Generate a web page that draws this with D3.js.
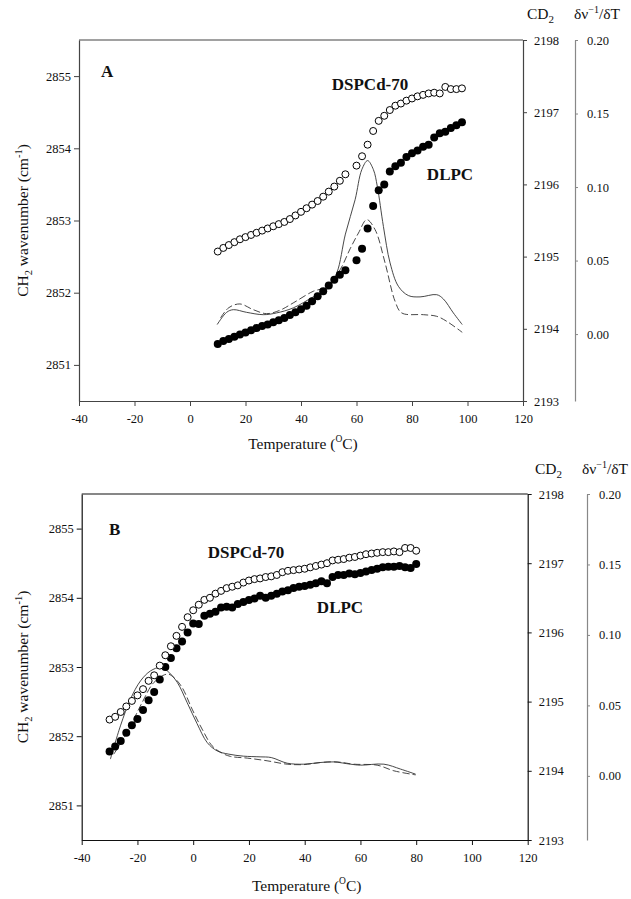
<!DOCTYPE html>
<html><head><meta charset="utf-8">
<script src="https://cdn.jsdelivr.net/npm/d3@7"></script>
<style>
body{margin:0;background:#fff}
svg{display:block}
text{font-family:"Liberation Serif","Times New Roman",serif;fill:#111}
</style>
</head><body><svg id="c" width="631" height="899"></svg>
<script>
// ---------- shared axes ----------
const xTicks = [-40,-20,0,20,40,60,80,100,120];
const ch2Ticks = [2851,2852,2853,2854,2855];
const cd2Ticks = [2193,2194,2195,2196,2197,2198];
const derivTicks = [0.00,0.05,0.10,0.15,0.20];
const xDomain = [-40,120];
const ch2Domain = [2850.5,2855.5];
const cd2Domain = [2193,2198];
const derivDomain = [-0.0455,0.20];

// ---------- panel A data ----------
const tempA = [10,12,14,16,18,20,22,24,26,28,30,32,34,36,38,40,42,44,46,48,50,52,54,56,
               60,62,64,66,68,70,72,74,76,78,80,82,84,86,88,90,92,94,96,98];
const dspcA = [2852.57,2852.62,2852.66,2852.70,2852.74,2852.77,2852.80,2852.83,2852.86,2852.89,2852.92,2852.95,2852.98,2853.02,2853.07,2853.12,2853.17,2853.22,2853.27,2853.33,2853.40,2853.47,2853.55,2853.64,
               2853.76,2853.89,2854.05,2854.24,2854.38,2854.45,2854.53,2854.59,2854.62,2854.66,2854.69,2854.72,2854.74,2854.76,2854.77,2854.76,2854.85,2854.82,2854.82,2854.83];
const dlpcA = [2851.29,2851.33,2851.36,2851.39,2851.42,2851.45,2851.48,2851.51,2851.54,2851.56,2851.59,2851.62,2851.65,2851.69,2851.73,2851.77,2851.82,2851.88,2851.95,2852.02,2852.10,2852.18,2852.25,2852.31,
               2852.45,2852.61,2852.89,2853.20,2853.42,2853.50,2853.68,2853.75,2853.80,2853.88,2853.93,2853.97,2854.02,2854.05,2854.15,2854.21,2854.23,2854.28,2854.32,2854.36];
const solidTempA = [9.8,13.2,15.6,20.4,26.4,31.2,37.2,44.4,49.3,52.9,56,59.5,61.9,64,66.1,67.5,69.7,72.1,75.1,78.7,82.9,88.9,91.3,94.9,98.1];
const solidDerivA = [0.0065,0.0148,0.0166,0.0148,0.0132,0.0144,0.0178,0.0253,0.0302,0.0416,0.068,0.0914,0.1118,0.118,0.1118,0.1004,0.0732,0.0484,0.0325,0.0262,0.0253,0.0268,0.0239,0.0144,0.0065];
const dashTempA = [11,14,18,22.8,27.6,32.4,37.2,44.4,49.3,54.1,57.7,60.7,63.7,66.7,70.3,73.9,76.3,84.1,88.9,92.5,98.1];
const dashDerivA = [0.011,0.018,0.0205,0.0166,0.0139,0.0162,0.0212,0.0291,0.0321,0.0438,0.058,0.0687,0.0778,0.071,0.0484,0.0223,0.0144,0.0132,0.0121,0.0087,0.0012];

// ---------- panel B data ----------
const tempB = [-30,-28,-26,-24,-22,-20,-18,-16,-14,-12,-10,-8,-6,-4,-2,0,2,4,6,8,10,12,14,16,18,20,22,24,26,28,
               30,32,34,36,38,40,42,44,46,48,50,52,54,56,58,60,62,64,66,68,70,72,74,76,78,80];
const dspcB = [2852.24,2852.28,2852.35,2852.43,2852.51,2852.59,2852.68,2852.80,2852.88,2853.02,2853.17,2853.30,2853.45,2853.58,2853.72,2853.82,2853.90,2853.97,2854.00,2854.06,2854.10,2854.14,2854.16,2854.18,2854.22,2854.25,2854.27,2854.28,2854.30,2854.31,
               2854.33,2854.37,2854.39,2854.40,2854.41,2854.42,2854.44,2854.46,2854.48,2854.50,2854.54,2854.55,2854.56,2854.58,2854.59,2854.61,2854.63,2854.64,2854.65,2854.66,2854.66,2854.67,2854.66,2854.72,2854.72,2854.68];
const dlpcB = [2851.78,2851.85,2851.93,2852.05,2852.16,2852.25,2852.38,2852.52,2852.64,2852.82,2853.00,2853.13,2853.27,2853.37,2853.50,2853.63,2853.62,2853.74,2853.77,2853.80,2853.86,2853.87,2853.86,2853.91,2853.94,2853.97,2853.99,2854.03,2854.00,2854.03,
               2854.06,2854.09,2854.11,2854.14,2854.16,2854.17,2854.19,2854.21,2854.24,2854.21,2854.30,2854.33,2854.33,2854.35,2854.34,2854.36,2854.38,2854.40,2854.42,2854.44,2854.45,2854.45,2854.46,2854.44,2854.43,2854.49];
const solidTempB = [-29.7,-26.1,-22.5,-18.9,-15.3,-11.7,-9.3,-5.7,-2.2,1.4,5,8.6,12.8,18,24,28,33.7,39.7,45.7,50.4,56.4,60,68.4,74.4,79.8];
const solidDerivB = [0.0119,0.0355,0.0545,0.0674,0.0745,0.077,0.0745,0.0663,0.0521,0.0370,0.0237,0.0177,0.0154,0.014,0.0135,0.013,0.009,0.0083,0.0095,0.0099,0.0083,0.0076,0.0083,0.0048,0.0012];
const dashTempB = [-28.5,-23.7,-18.3,-14.1,-9.3,-7,-4,-0.4,3.2,6.8,10.4,13.4,19.4,26.5,33.7,39.7,45.7,51.6,57.6,66,72,79.8];
const dashDerivB = [0.0154,0.0308,0.0521,0.0663,0.0722,0.0699,0.0628,0.0474,0.0332,0.0213,0.0161,0.0138,0.0126,0.0107,0.0083,0.008,0.0095,0.0099,0.0083,0.0076,0.0036,0.0007];

const svg = d3.select("#c");
const plain = d => String(d);

function panel(p) {
  const g = svg.append("g");
  const x = d3.scaleLinear().domain(xDomain).range([p.left, p.right]);
  const y = d3.scaleLinear().domain(ch2Domain).range([p.bottom, p.top]);
  const yCD = d3.scaleLinear().domain(cd2Domain).range([p.bottom, p.top]);
  const yD = d3.scaleLinear().domain(derivDomain).range([p.bottom, p.top]);

  // top frame line
  g.append("line").attr("x1", p.left).attr("x2", p.right).attr("y1", p.top).attr("y2", p.top)
    .attr("stroke", p.axisColor).attr("stroke-width", 1.2);

  const styleAxis = (sel, col) => {
    sel.selectAll("path").attr("stroke", col).attr("stroke-width", 1.2);
    sel.selectAll("line").attr("stroke", col).attr("stroke-width", 1);
    sel.selectAll("text").attr("font-family", '"Liberation Serif","Times New Roman",serif')
       .attr("font-size", 12.5).attr("fill", "#111");
  };

  const gx = g.append("g").attr("transform", `translate(0,${p.bottom})`)
    .call(d3.axisBottom(x).tickValues(xTicks).tickSize(5).tickSizeOuter(0).tickPadding(8).tickFormat(plain));
  styleAxis(gx, p.axisColor);

  const gy = g.append("g").attr("transform", `translate(${p.left},0)`)
    .call(d3.axisLeft(y).tickValues(ch2Ticks).tickSize(5).tickSizeOuter(0).tickPadding(3).tickFormat(plain));
  styleAxis(gy, p.axisColor);

  const gr = g.append("g").attr("transform", `translate(${p.right},0)`)
    .call(d3.axisRight(yCD).tickValues(cd2Ticks).tickSize(4).tickSizeOuter(0).tickPadding(7).tickFormat(plain));
  styleAxis(gr, p.axisColor);

  const gd = g.append("g").attr("transform", `translate(${p.axis3},0)`)
    .call(d3.axisRight(yD).tickValues(derivTicks).tickSize(3).tickSizeOuter(0).tickPadding(9).tickFormat(d3.format(".2f")));
  styleAxis(gd, "#888");

  // derivative curves
  const line = d3.line().x(d => x(d[0])).y(d => yD(d[1])).curve(d3.curveCatmullRom.alpha(0.5));
  g.append("path").datum(d3.zip(p.solidT, p.solidV)).attr("d", line)
    .attr("fill", "none").attr("stroke", "#333").attr("stroke-width", 0.9);
  g.append("path").datum(d3.zip(p.dashT, p.dashV)).attr("d", line)
    .attr("fill", "none").attr("stroke", "#333").attr("stroke-width", 0.9).attr("stroke-dasharray", "7,3");

  // filled circles (DLPC)
  g.append("g").selectAll("circle").data(d3.zip(p.temps, p.filled)).join("circle")
    .attr("cx", d => x(d[0])).attr("cy", d => y(d[1])).attr("r", 4).attr("fill", "#000");
  // open circles (DSPCd-70)
  g.append("g").selectAll("circle").data(d3.zip(p.temps, p.open)).join("circle")
    .attr("cx", d => x(d[0])).attr("cy", d => y(d[1])).attr("r", 3.5)
    .attr("fill", "#fff").attr("stroke", "#000").attr("stroke-width", 1);

  // labels
  g.append("text").attr("x", p.letterX).attr("y", p.letterY).attr("font-weight", "bold")
    .attr("font-size", 17).text(p.letter);
  g.append("text").attr("x", p.dspcX).attr("y", p.dspcY).attr("font-weight", "bold")
    .attr("text-anchor", "middle").attr("font-size", 17).text("DSPCd-70");
  g.append("text").attr("x", p.dlpcX).attr("y", p.dlpcY).attr("font-weight", "bold")
    .attr("text-anchor", "middle").attr("font-size", 17).text("DLPC");

  // x title
  const xt = g.append("text").attr("x", (p.left + p.right) / 2 + 2).attr("y", p.bottom + p.xTitleGap)
    .attr("text-anchor", "middle").attr("font-size", 15.5);
  xt.append("tspan").text("Temperature (");
  xt.append("tspan").attr("font-size", 9.5).attr("dy", -7).text("O");
  xt.append("tspan").attr("dy", 7).text("C)");

  // y title
  const cy = (p.top + p.bottom) / 2;
  const yt = g.append("text").attr("transform", `translate(28,${cy}) rotate(-90)`)
    .attr("text-anchor", "middle").attr("font-size", 15.5);
  yt.append("tspan").text("CH");
  yt.append("tspan").attr("font-size", 10.5).attr("dy", 4).text("2");
  yt.append("tspan").attr("dy", -4).text(" wavenumber (cm");
  yt.append("tspan").attr("font-size", 10.5).attr("dy", -6).text("-1");
  yt.append("tspan").attr("dy", 6).text(")");

  // headers
  const h1 = g.append("text").attr("x", p.cdHeadX).attr("y", p.headY).attr("font-size", 15.5);
  h1.append("tspan").text("CD");
  h1.append("tspan").attr("font-size", 11).attr("dy", 4).text("2");
  const h2 = g.append("text").attr("x", p.dHeadX).attr("y", p.headY).attr("font-size", 15.5);
  h2.append("tspan").text("δν");
  h2.append("tspan").attr("font-size", 10).attr("dy", -6).text("−1");
  h2.append("tspan").attr("dy", 6).text("/δT");
}

panel({
  left: 79, right: 523, top: 40, bottom: 401, axis3: 575, axisColor: "#444",
  temps: tempA, open: dspcA, filled: dlpcA,
  solidT: solidTempA, solidV: solidDerivA, dashT: dashTempA, dashV: dashDerivA,
  letter: "A", letterX: 101, letterY: 77,
  dspcX: 370, dspcY: 90, dlpcX: 450, dlpcY: 180,
  cdHeadX: 527, dHeadX: 574, headY: 19, xTitleGap: 48
});
panel({
  left: 81.7, right: 527.7, top: 494, bottom: 840, axis3: 587, axisColor: "#111",
  temps: tempB, open: dspcB, filled: dlpcB,
  solidT: solidTempB, solidV: solidDerivB, dashT: dashTempB, dashV: dashDerivB,
  letter: "B", letterX: 109, letterY: 535,
  dspcX: 246, dspcY: 558, dlpcX: 340, dlpcY: 613,
  cdHeadX: 535, dHeadX: 582, headY: 474, xTitleGap: 51
});
</script>
</body></html>
